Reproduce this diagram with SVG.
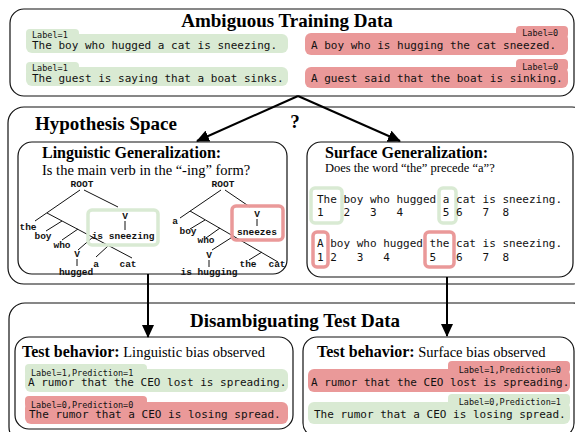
<svg xmlns="http://www.w3.org/2000/svg" width="575" height="432" viewBox="0 0 575 432">
<style>
.box{fill:#fff;stroke:#111;stroke-width:1.2}
.title{font-family:"Liberation Serif",serif;font-weight:bold;font-size:19px;fill:#000}
.sub{font-family:"Liberation Serif",serif;font-weight:bold;font-size:16px;fill:#000}
.q{font-family:"Liberation Serif",serif;font-size:14.5px;fill:#000}
.mono{font-family:"DejaVu Sans Mono",monospace;font-size:11px;fill:#111}
.lab{font-family:"DejaVu Sans Mono",monospace;font-size:8.5px;fill:#111}
.g{fill:#d9ead3}
.r{fill:#ea9999}
.tree{font-family:"Liberation Mono",monospace;font-weight:bold;font-size:9.5px;fill:#111;text-anchor:middle}
.tl{stroke:#111;stroke-width:1;fill:none}
.gbox{fill:none;stroke:#d9ead3;stroke-width:3.5}
.rbox{fill:none;stroke:#ea9999;stroke-width:3.5}
.arr{stroke:#000;stroke-width:2;fill:none}
</style>
<defs>
<marker id="ah" markerUnits="userSpaceOnUse" markerWidth="14" markerHeight="12" refX="12" refY="6" orient="auto">
<path d="M0,0 L13,6 L0,12 Z" fill="#000"/>
</marker>
</defs>

<g id="training">
<rect class="box" x="10" y="9" width="564" height="87" rx="14"/>
<text class="title" x="287" y="27" text-anchor="middle">Ambiguous Training Data</text>
<g id="train-g1">
<rect class="g" x="26" y="29" width="53" height="12" rx="4"/>
<rect class="g" x="26" y="34" width="262" height="19" rx="6"/>
<text class="lab" x="32" y="37.5">Label=1</text>
<text class="mono" x="32" y="48.5">The boy who hugged a cat is sneezing.</text>
</g>
<g id="train-g2">
<rect class="g" x="26" y="62" width="53" height="12" rx="4"/>
<rect class="g" x="26" y="67" width="262" height="19" rx="6"/>
<text class="lab" x="32" y="71">Label=1</text>
<text class="mono" x="32" y="81.5">The guest is saying that a boat sinks.</text>
</g>
<g id="train-r1">
<rect class="r" x="516" y="26" width="52" height="12" rx="4"/>
<rect class="r" x="305" y="33" width="263" height="22" rx="6"/>
<text class="lab" x="558" y="36" text-anchor="end">Label=0</text>
<text class="mono" x="311" y="48.5">A boy who is hugging the cat sneezed.</text>
</g>
<g id="train-r2">
<rect class="r" x="516" y="59" width="52" height="12" rx="4"/>
<rect class="r" x="305" y="67" width="263" height="21" rx="6"/>
<text class="lab" x="558" y="69.5" text-anchor="end">Label=0</text>
<text class="mono" x="311" y="82">A guest said that the boat is sinking.</text>
</g>
</g>

<g id="hypothesis">
<rect class="box" x="8" y="107" width="580" height="177" rx="16"/>
<text class="title" x="35" y="130">Hypothesis Space</text>
<text class="title" x="295" y="128" text-anchor="middle">?</text>
</g>

<g id="linguistic">
<rect class="box" x="18" y="142" width="269" height="132" rx="14"/>
<text class="sub" x="42" y="158">Linguistic Generalization:</text>
<text class="q" x="42" y="175">Is the main verb in the “-ing” form?</text>
<g id="tree1">
<text class="tree" x="82" y="187">ROOT</text>
<path class="tl" d="M80,190 L35,221 M84,190 L118,207 M47,213 L132,258 M62,221 L46,231 M78,229 L62,240 M93,237 L78,250 M108,246 L96,257 M77,259 L77,266 M125,221 L125,230"/>
<text class="tree" x="28" y="230">the</text>
<text class="tree" x="43" y="239">boy</text>
<text class="tree" x="62" y="248">who</text>
<text class="tree" x="77" y="257">V</text>
<text class="tree" x="76" y="275">hugged</text>
<text class="tree" x="96" y="267">a</text>
<text class="tree" x="128" y="267">cat</text>
<rect class="gbox" x="88" y="210" width="70" height="35" rx="4"/>
<text class="tree" x="125" y="219">V</text>
<text class="tree" x="123" y="239">is sneezing</text>
</g>
<g id="tree2">
<text class="tree" x="223" y="187">ROOT</text>
<path class="tl" d="M221,190 L180,218 M225,190 L250,207 M190,211 L278,262 M205,220 L190,229 M220,228 L206,238 M234,236 L212,250 M262,252 L249,260 M209,260 L209,267 M257,219 L257,226"/>
<text class="tree" x="175" y="224">a</text>
<text class="tree" x="188" y="234">boy</text>
<text class="tree" x="206" y="243">who</text>
<text class="tree" x="209" y="258">V</text>
<text class="tree" x="209" y="275">is hugging</text>
<text class="tree" x="248" y="267">the</text>
<text class="tree" x="277" y="267">cat</text>
<rect class="rbox" x="232" y="206" width="51" height="34" rx="4"/>
<text class="tree" x="257" y="217">V</text>
<text class="tree" x="257" y="235">sneezes</text>
</g>
</g>

<g id="surface">
<rect class="box" x="307" y="142" width="266" height="135" rx="14"/>
<text class="sub" x="325" y="158">Surface Generalization:</text>
<text class="q" x="325" y="172" style="font-size:12.5px">Does the word “the” precede “a”?</text>
<rect class="gbox" x="311" y="188" width="31" height="35" rx="4"/>
<rect class="gbox" x="439" y="188" width="17" height="35" rx="4"/>
<text class="mono" x="317" y="203">The boy who hugged a cat is sneezing.</text>
<text class="mono" y="216"><tspan x="317">1</tspan><tspan x="343.5">2</tspan><tspan x="370">3</tspan><tspan x="396.5">4</tspan><tspan x="442.8">5</tspan><tspan x="456.1">6</tspan><tspan x="482.6">7</tspan><tspan x="502.4">8</tspan></text>
<rect class="rbox" x="313" y="232" width="15" height="35" rx="4"/>
<rect class="rbox" x="425" y="232" width="29" height="35" rx="4"/>
<text class="mono" x="317" y="247">A boy who hugged the cat is sneezing.</text>
<text class="mono" y="261"><tspan x="317">1</tspan><tspan x="330.2">2</tspan><tspan x="356.7">3</tspan><tspan x="383.2">4</tspan><tspan x="429.6">5</tspan><tspan x="456.1">6</tspan><tspan x="482.6">7</tspan><tspan x="502.4">8</tspan></text>
</g>

<g id="disambiguating">
<rect class="box" x="9" y="303" width="580" height="140" rx="16"/>
<text class="title" x="295" y="327" text-anchor="middle">Disambiguating Test Data</text>
</g>

<g id="test-linguistic">
<rect class="box" x="15" y="337" width="278" height="92" rx="14"/>
<text x="22" y="357"><tspan class="sub">Test behavior:</tspan><tspan class="q"> Linguistic bias observed</tspan></text>
<rect class="g" x="25" y="364" width="122" height="12" rx="4"/>
<rect class="g" x="25" y="369" width="263" height="23" rx="6"/>
<text class="lab" x="31" y="375.5">Label=1,Prediction=1</text>
<text class="mono" x="28" y="386">A rumor that the CEO lost is spreading.</text>
<rect class="r" x="25" y="396" width="122" height="12" rx="4"/>
<rect class="r" x="25" y="402" width="263" height="22" rx="6"/>
<text class="lab" x="31" y="407.5">Label=0,Prediction=0</text>
<text class="mono" x="29" y="418">The rumor that a CEO is losing spread.</text>
</g>

<g id="test-surface">
<rect class="box" x="303" y="337" width="271" height="100" rx="14"/>
<text x="317" y="357"><tspan class="sub">Test behavior:</tspan><tspan class="q"> Surface bias observed</tspan></text>
<rect class="r" x="448" y="361" width="122" height="12" rx="4"/>
<rect class="r" x="308" y="369" width="262" height="23" rx="6"/>
<text class="lab" x="561" y="372.5" text-anchor="end">Label=1,Prediction=0</text>
<text class="mono" x="311" y="386">A rumor that the CEO lost is spreading.</text>
<rect class="g" x="448" y="394" width="122" height="12" rx="4"/>
<rect class="g" x="308" y="402" width="262" height="22" rx="6"/>
<text class="lab" x="561" y="405" text-anchor="end">Label=0,Prediction=1</text>
<text class="mono" x="314" y="418">The rumor that a CEO is losing spread.</text>
</g>

<g id="connectors">
<line class="arr" x1="298" y1="96" x2="197" y2="141" marker-end="url(#ah)"/>
<line class="arr" x1="298" y1="96" x2="400" y2="141" marker-end="url(#ah)"/>
<line class="arr" x1="148" y1="274" x2="148" y2="337" marker-end="url(#ah)"/>
<line class="arr" x1="447" y1="277" x2="447" y2="336" marker-end="url(#ah)"/>
</g>
</svg>
